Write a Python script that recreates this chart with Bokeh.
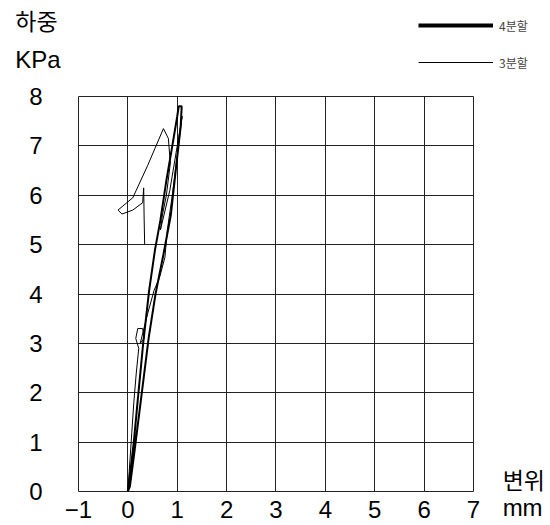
from bokeh.plotting import figure
from bokeh.models import Range1d, FixedTicker, Label, Legend, LegendItem
from bokeh.embed import file_html
from bokeh.resources import INLINE

# tick values
x_ticks = [-1, 0, 1, 2, 3, 4, 5, 6, 7]
y_ticks = [0, 1, 2, 3, 4, 5, 6, 7, 8]

# series "4분할" (thick): displacement (mm), load (KPa)
s4_x = [0.0, 0.06, 0.12, 0.2, 0.31, 0.43, 0.55, 0.66, 0.78, 0.9, 1.0, 1.03, 1.09,
        1.07, 0.98, 0.87, 0.72, 0.56, 0.42, 0.32, 0.22, 0.12, 0.04, 0.0]
s4_y = [0.0, 0.5, 1.0, 1.85, 3.0, 4.07, 4.9, 5.5, 6.3, 7.0, 7.6, 7.8, 7.8,
        7.4, 6.6, 5.6, 4.8, 4.0, 3.1, 2.3, 1.5, 0.7, 0.1, 0.0]

# series "3분할" (thin)
s3_x = [0.0, 0.04, 0.08, 0.12, 0.17, 0.22, 0.16, 0.2, 0.3, 0.33, 0.25, 0.4, 0.53,
        0.64, 0.75, 0.8, 0.9, 1.0, 1.08, 1.1, 1.0, 0.85, 0.66, 0.7, 0.78, 0.86,
        0.82, 0.72, 0.4, 0.1, -0.2, -0.12, 0.1, 0.3, 0.32, 0.33, 0.34]
s3_y = [0.0, 0.6, 1.2, 1.8, 2.4, 2.9, 3.1, 3.3, 3.3, 3.1, 3.0, 3.6, 4.07,
        4.33, 4.74, 5.3, 6.0, 6.8, 7.45, 7.6, 7.0, 6.1, 5.3, 5.6, 6.0, 6.65,
        7.15, 7.35, 6.6, 5.95, 5.7, 5.62, 5.7, 5.85, 6.15, 5.5, 5.0]

FONT = "Liberation Sans"
KFONT = "Noto Sans CJK KR"

p = figure(width=550, height=525, output_backend="svg", toolbar_location=None,
           x_range=Range1d(-2.5797, 8.5595), y_range=Range1d(-0.6886, 9.9443),
           min_border=0)

p.background_fill_color = "white"
p.border_fill_color = "white"
p.outline_line_color = None

p.xaxis.fixed_location = 0
p.yaxis.fixed_location = -1
for ax in (p.xaxis[0], p.yaxis[0]):
    ax.axis_line_color = None
    ax.major_tick_line_color = None
    ax.minor_tick_line_color = None
    ax.major_tick_in = 0
    ax.major_tick_out = 0
    ax.major_label_text_font = FONT
    ax.major_label_text_font_size = "24px"
    ax.major_label_text_color = "black"

p.xaxis.ticker = FixedTicker(ticks=x_ticks)
p.yaxis.ticker = FixedTicker(ticks=y_ticks)
p.xaxis.major_label_overrides = {-1: "\u22121"}
p.xaxis.major_label_standoff = 9
p.yaxis.major_label_standoff = 36

p.xgrid.ticker = FixedTicker(ticks=x_ticks)
p.ygrid.ticker = FixedTicker(ticks=y_ticks)
p.xgrid.bounds = (x_ticks[0], x_ticks[-1])
p.xgrid.cross_bounds = (y_ticks[0], y_ticks[-1])
p.ygrid.bounds = (y_ticks[0], y_ticks[-1])
p.ygrid.cross_bounds = (x_ticks[0], x_ticks[-1])
p.grid.grid_line_color = "#222222"
p.grid.grid_line_width = 1

r3 = p.line(s3_x, s3_y, line_color="black", line_width=1)
r4 = p.line(s4_x, s4_y, line_color="black", line_width=2)

# legend swatches (single-point lines draw nothing on the plot itself)
l4 = p.line(s4_x[:1], s4_y[:1], line_color="black", line_width=4)
l3 = p.line(s3_x[:1], s3_y[:1], line_color="black", line_width=1)
legend = Legend(items=[LegendItem(label="4분할", renderers=[l4]),
                       LegendItem(label="3분할", renderers=[l3])],
                location=(418, 453), orientation="vertical",
                glyph_width=75, glyph_height=20, label_height=20,
                label_standoff=6, spacing=17, padding=0, margin=0,
                border_line_color=None, background_fill_alpha=0,
                label_text_font=KFONT, label_text_font_size="12px")
p.add_layout(legend, "center")

p.add_layout(Label(x=-2.28, y=9.54, text="하중", text_font=KFONT,
                   text_font_size="23px", text_align="left",
                   text_baseline="middle", text_color="black"))
p.add_layout(Label(x=-2.28, y=8.75, text="KPa", text_font=FONT,
                   text_font_size="24px", text_align="left",
                   text_baseline="middle", text_color="black"))
p.add_layout(Label(x=7.59, y=0.25, text="변위", text_font=KFONT,
                   text_font_size="23px", text_align="left",
                   text_baseline="middle", text_color="black"))
p.add_layout(Label(x=7.59, y=-0.33, text="mm", text_font=FONT,
                   text_font_size="24px", text_align="left",
                   text_baseline="middle", text_color="black"))

open("out.html", "w").write(file_html(p, INLINE))
